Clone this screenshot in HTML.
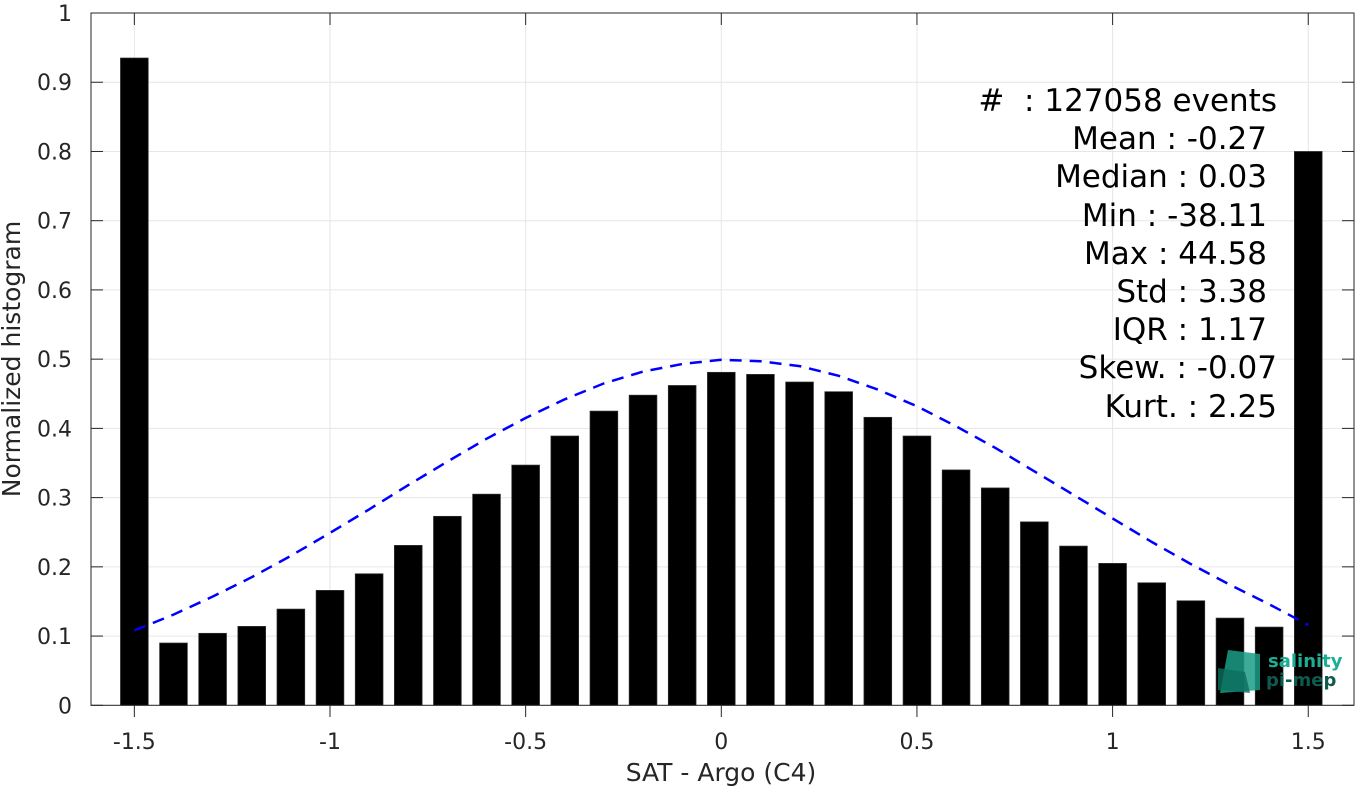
<!DOCTYPE html>
<html><head><meta charset="utf-8"><style>
body{margin:0;background:#fff;}
svg text{font-family:"DejaVu Sans","Liberation Sans",sans-serif;}
</style></head><body>
<svg id="chart" width="1367" height="787" xmlns="http://www.w3.org/2000/svg">
<rect width="1367" height="787" fill="#fff"/>
<g id="grid"></g>
<g id="bars"></g>
<path id="curve" fill="none" stroke="#0000ff" stroke-width="2.5" stroke-dasharray="12,8"/>
<rect x="91" y="13" width="1263" height="692.3" fill="none" stroke="#262626" stroke-width="1"/>
<g id="ticks"></g>
<text x="721" y="781" font-size="25" fill="#262626" text-anchor="middle">SAT - Argo (C4)</text>
<text transform="translate(20,359) rotate(-90)" font-size="25" fill="#262626" text-anchor="middle">Normalized histogram</text>
<g font-size="31" fill="#000" text-anchor="end" style="white-space:pre">
<text x="1277" y="111" xml:space="preserve">#  : 127058 events</text>
<text x="1267" y="149">Mean : -0.27</text>
<text x="1267" y="187">Median : 0.03</text>
<text x="1267" y="226">Min : -38.11</text>
<text x="1267" y="264">Max : 44.58</text>
<text x="1267" y="302">Std : 3.38</text>
<text x="1267" y="340">IQR : 1.17</text>
<text x="1277" y="378">Skew. : -0.07</text>
<text x="1277" y="417">Kurt. : 2.25</text>
</g>
<g>
<polygon points="1228,650 1260,654 1260,690 1220,693" fill="#1a9e86" opacity="0.85"/>
<polygon points="1218,668 1245,672 1250,693 1218,690" fill="#0d6e5e" opacity="0.8"/>
<text x="1268" y="667" font-size="18" font-weight="bold" fill="#1aae95">salinity</text>
<text x="1266" y="686" font-size="18" font-weight="bold" fill="#0f5a4e">pi-mep</text>
</g>
</svg>
<script>
const binCenters=[-1.5,-1.4,-1.3,-1.2,-1.1,-1.0,-0.9,-0.8,-0.7,-0.6,-0.5,-0.4,-0.3,-0.2,-0.1,0,0.1,0.2,0.3,0.4,0.5,0.6,0.7,0.8,0.9,1.0,1.1,1.2,1.3,1.4,1.5];
const binValues=[0.935,0.09,0.104,0.114,0.139,0.166,0.19,0.231,0.273,0.305,0.347,0.389,0.425,0.448,0.462,0.481,0.478,0.467,0.453,0.416,0.389,0.34,0.314,0.265,0.23,0.205,0.177,0.151,0.126,0.113,0.8];
const curveX=[-1.5,-1.4,-1.3,-1.2,-1.1,-1.0,-0.9,-0.8,-0.7,-0.6,-0.5,-0.4,-0.3,-0.2,-0.1,0,0.1,0.2,0.3,0.4,0.5,0.6,0.7,0.8,0.9,1.0,1.1,1.2,1.3,1.4,1.5];
const curveY=[0.108,0.131,0.157,0.185,0.216,0.249,0.283,0.318,0.352,0.385,0.415,0.442,0.465,0.482,0.493,0.499,0.497,0.49,0.476,0.456,0.432,0.403,0.372,0.338,0.304,0.27,0.236,0.204,0.174,0.146,0.116];
const xTicks=[-1.5,-1,-0.5,0,0.5,1,1.5];
const xTickLabels=["-1.5","-1","-0.5","0","0.5","1","1.5"];
const yTicks=[0,0.1,0.2,0.3,0.4,0.5,0.6,0.7,0.8,0.9,1];
const yTickLabels=["0","0.1","0.2","0.3","0.4","0.5","0.6","0.7","0.8","0.9","1"];
const NS="http://www.w3.org/2000/svg";
const X=v=>721.3+v*391.3;
const Y=v=>705.3-v*692.3;
const barW=0.071*391.3;
function mk(t,a){const e=document.createElementNS(NS,t);for(const k in a)e.setAttribute(k,a[k]);return e;}
const grid=document.getElementById('grid'),ticks=document.getElementById('ticks'),bars=document.getElementById('bars');
xTicks.forEach((t,i)=>{
  const g=mk('line',{x1:X(t),x2:X(t),y1:13,y2:705,stroke:'#e6e6e6','stroke-width':1});
  
  
  grid.appendChild(g);
  const tk=mk('line',{x1:X(t),x2:X(t),y1:705,y2:717,stroke:'#262626','stroke-width':1});
  
  
  ticks.appendChild(tk);
  const tk2=mk('line',{x1:X(t),x2:X(t),y1:13,y2:25,stroke:'#262626','stroke-width':1});
  
  
  ticks.appendChild(tk2);
  const lb=mk('text',{x:X(t),y:749,'font-size':22,fill:'#262626','text-anchor':'middle'});
  lb.textContent=xTickLabels[i];
  
  
  ticks.appendChild(lb);
});
yTicks.forEach((t,i)=>{
  const g=mk('line',{x1:91,x2:1354,y1:Y(t),y2:Y(t),stroke:'#e6e6e6','stroke-width':1});
  
  
  grid.appendChild(g);
  const tk=mk('line',{x1:91,x2:103,y1:Y(t),y2:Y(t),stroke:'#262626','stroke-width':1});
  
  
  ticks.appendChild(tk);
  const tk2=mk('line',{x1:1342,x2:1354,y1:Y(t),y2:Y(t),stroke:'#262626','stroke-width':1});
  
  
  ticks.appendChild(tk2);
  const lb=mk('text',{x:72,y:Y(t)+8,'font-size':22,fill:'#262626','text-anchor':'end'});
  lb.textContent=yTickLabels[i];
  
  
  ticks.appendChild(lb);
});
binCenters.forEach((c,i)=>{
  const r=mk('rect',{x:X(c)-barW/2,y:Y(binValues[i]),width:barW,height:Y(0)-Y(binValues[i]),fill:'#000',stroke:'#333','stroke-width':0.7});
  
  
  bars.appendChild(r);
});
document.getElementById('curve').setAttribute('d',curveX.map((x,i)=>(i?'L':'M')+X(x).toFixed(1)+','+Y(curveY[i]).toFixed(1)).join(' '));
</script>
</body></html>
